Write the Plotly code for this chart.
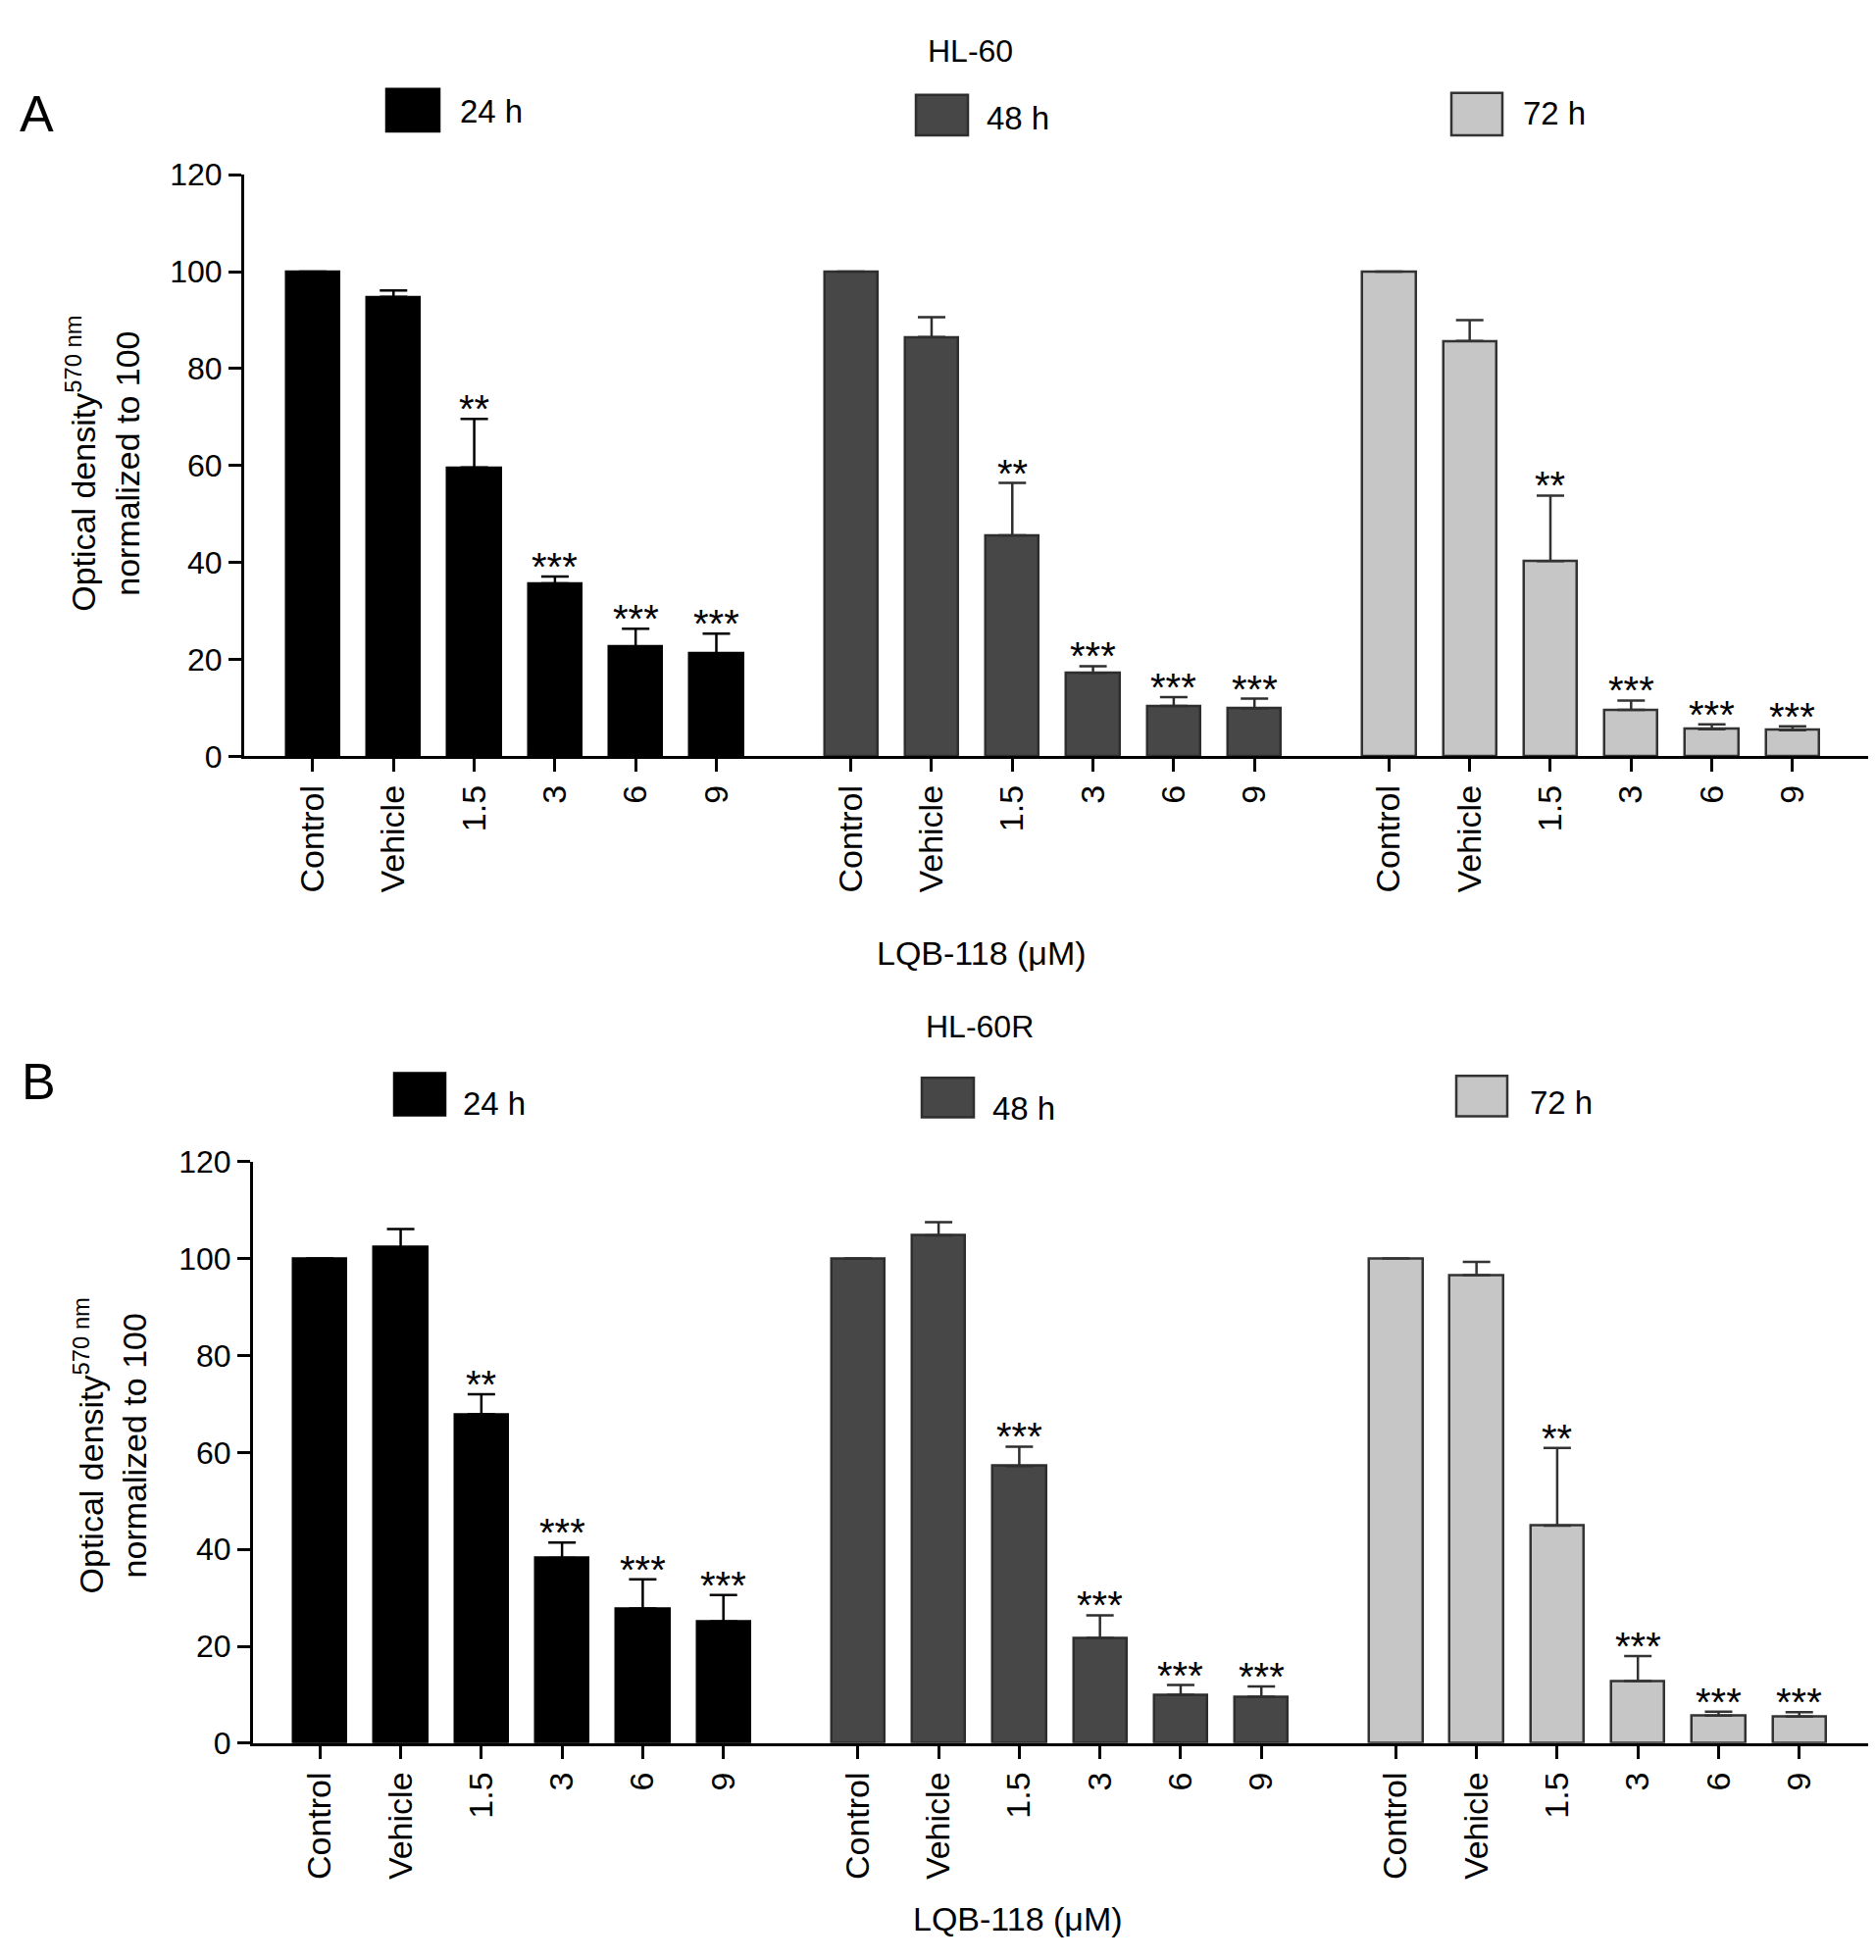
import plotly.graph_objects as go

# categories / series
conditions = ["Control", "Vehicle", "1.5", "3", "6", "9"]
times = ["24 h", "48 h", "72 h"]

# HL-60 (panel A), mean and upper SD
hl60_24 = [100, 94.8, 59.6, 35.7, 22.7, 21.2]
hl60_24_err = [0, 1.3, 10.0, 1.4, 3.6, 4.1]
hl60_48 = [100, 86.5, 45.6, 17.2, 10.4, 9.9]
hl60_48_err = [0, 4.1, 10.8, 1.4, 1.8, 2.0]
hl60_72 = [100, 85.7, 40.3, 9.6, 5.6, 5.4]
hl60_72_err = [0, 4.3, 13.5, 1.9, 1.0, 0.8]

# HL-60R (panel B)
hl60r_24 = [100, 102.3, 67.9, 38.2, 27.8, 25.1]
hl60r_24_err = [0, 3.8, 4.1, 3.2, 6.0, 5.5]
hl60r_48 = [100, 104.8, 57.2, 21.7, 10.0, 9.6]
hl60r_48_err = [0, 2.7, 4.0, 4.7, 2.0, 2.1]
hl60r_72 = [100, 96.6, 44.9, 12.8, 5.7, 5.5]
hl60r_72_err = [0, 2.7, 16.0, 5.2, 0.8, 0.9]

# significance marks
stars_a = ["", "", "**", "***", "***", "***"]
stars_b_24 = ["", "", "**", "***", "***", "***"]
stars_b_48 = ["", "", "***", "***", "***", "***"]
stars_b_72 = ["", "", "**", "***", "***", "***"]

y_ticks = [0, 20, 40, 60, 80, 100, 120]

FONT = "Liberation Sans, Arial, sans-serif"
W, H = 1913, 1999
fills = ["#000000", "#474747", "#c6c6c6"]
edges = ["#000000", "#2e2e2e", "#333333"]
GSTEP = 6 + 2 / 3


def px(x):
    return x / W


def py(y):
    return 1 - y / H


panels = [
    dict(xa="x", ya="y", data=[(hl60_24, hl60_24_err, stars_a),
                              (hl60_48, hl60_48_err, stars_a),
                              (hl60_72, hl60_72_err, stars_a)]),
    dict(xa="x2", ya="y2", data=[(hl60r_24, hl60r_24_err, stars_b_24),
                                (hl60r_48, hl60r_48_err, stars_b_48),
                                (hl60r_72, hl60r_72_err, stars_b_72)]),
]

fig = go.Figure()
annotations = []
tickvals = []
ticktext = []
for g in range(len(times)):
    for i, c in enumerate(conditions):
        tickvals.append(g * GSTEP + i)
        ticktext.append(c)

for p in panels:
    for g, (vals, errs, stars) in enumerate(p["data"]):
        xs = [g * GSTEP + i for i in range(len(conditions))]
        fig.add_trace(go.Bar(
            x=xs, y=vals, width=0.66, xaxis=p["xa"], yaxis=p["ya"],
            name=times[g], showlegend=False,
            marker=dict(color=fills[g], line=dict(color=edges[g], width=2.5)),
            error_y=dict(type="data", array=errs, arrayminus=[0] * len(errs),
                         symmetric=False, color=edges[g], thickness=2.5, width=14),
        ))
        for x, v, e, s in zip(xs, vals, errs, stars):
            if s:
                annotations.append(dict(
                    x=x, y=v + e, xref=p["xa"], yref=p["ya"], text=s,
                    showarrow=False, yanchor="bottom", yshift=-14,
                    font=dict(size=40, color="black", family=FONT)))

axis_common = dict(showgrid=False, zeroline=False, showline=True, linecolor="black",
                   linewidth=3, ticks="outside", ticklen=13, tickwidth=3,
                   tickcolor="black")

fig.update_layout(
    width=W, height=H,
    margin=dict(l=0, r=0, t=0, b=0),
    paper_bgcolor="white", plot_bgcolor="white",
    font=dict(family=FONT, color="black"),
    bargap=0,
    xaxis=dict(domain=[px(241), px(1897)], range=[-0.85, 19.27], anchor="y",
               tickvals=tickvals, ticktext=ticktext, tickangle=-90,
               tickfont=dict(size=34), **axis_common),
    yaxis=dict(domain=[py(759), py(155)], range=[0, 120], anchor="x",
               tickvals=y_ticks, tickfont=dict(size=32), **axis_common),
    xaxis2=dict(domain=[px(250), px(1903)], range=[-0.83, 19.26], anchor="y2",
                tickvals=tickvals, ticktext=ticktext, tickangle=-90,
                tickfont=dict(size=34), **axis_common),
    yaxis2=dict(domain=[py(1784), py(1180)], range=[0, 120], anchor="x2",
                tickvals=y_ticks, tickfont=dict(size=32), **axis_common),
)

ytitle = "Optical density<sup>570 nm</sup><br>normalized to 100"
texts = [
    ("HL-60", 982, 26, 32, 0), ("HL-60R", 991, 1040, 32, 0),
    ("A", 29, 92, 52, 0), ("B", 31, 1097, 52, 0),
    ("LQB-118 (\u03bcM)", 993, 963, 34, 0), ("LQB-118 (\u03bcM)", 1030, 1966, 34, 0),
    (ytitle, 97, 455, 34, -90), (ytitle, 104, 1475, 34, -90),
]
for t, x, y, s, ang in texts:
    annotations.append(dict(x=px(x), y=py(y), xref="paper", yref="paper", text=t,
                            showarrow=False, textangle=ang, xanchor="center",
                            yanchor="middle", font=dict(size=s, color="black")))

# legends drawn as boxes + labels
legend_boxes = [
    [(386, 66, 440, 110), (926, 72, 979, 114), (1472, 70, 1524, 114)],
    [(394, 1088, 446, 1132), (932, 1093, 985, 1134), (1477, 1091, 1529, 1133)],
]
legend_text = [
    [(459, 89), (996, 96), (1543, 91)],
    [(462, 1120), (1002, 1125), (1550, 1119)],
]
shapes = []
for boxes, labels in zip(legend_boxes, legend_text):
    for g, ((x0, y0, x1, y1), (tx, ty)) in enumerate(zip(boxes, labels)):
        shapes.append(dict(type="rect", xref="paper", yref="paper",
                           x0=px(x0), x1=px(x1), y0=py(y1), y1=py(y0),
                           fillcolor=fills[g], line=dict(color=edges[g], width=2.5)))
        annotations.append(dict(x=px(tx), y=py(ty), xref="paper", yref="paper",
                                text=times[g], showarrow=False, xanchor="left",
                                yanchor="middle", font=dict(size=33, color="black")))

fig.update_layout(annotations=annotations, shapes=shapes)
fig.write_html("out.html")
